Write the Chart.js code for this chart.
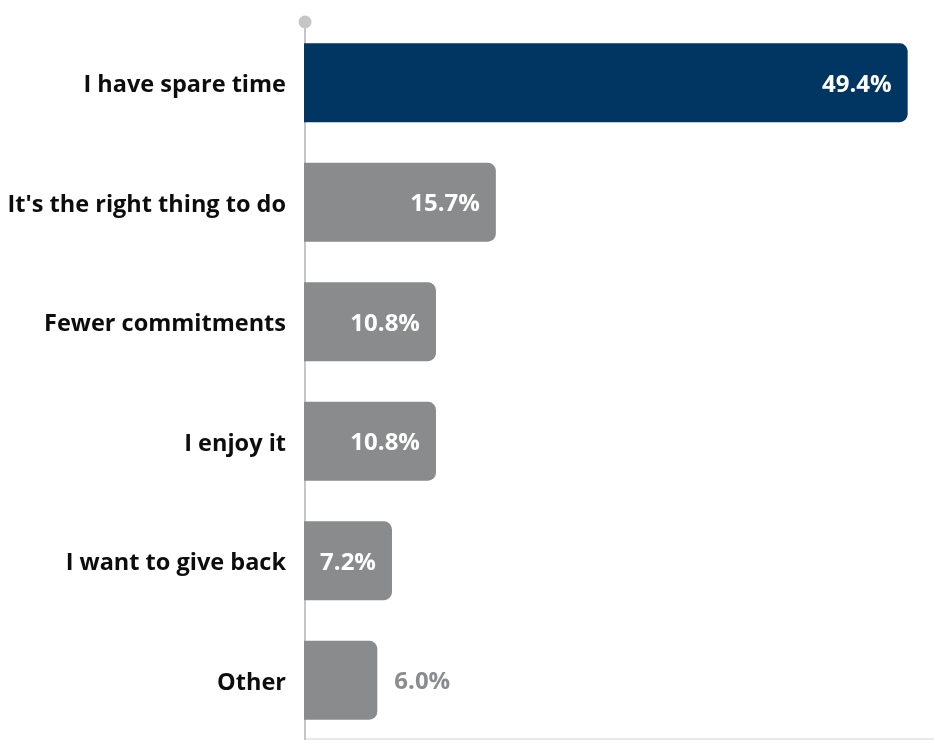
<!DOCTYPE html>
<html lang="en">
<head>
    <meta charset="UTF-8">
    <title>Reasons</title>
    <style>
        body {
            margin: 0;
            padding: 0;
            background-color: #ffffff;
        }

        .chart-container {
            position: relative;
            width: 934px;
            height: 740px;
        }
    </style>
    <script src="https://cdn.jsdelivr.net/npm/chart.js"></script>
</head>
<body>
    <div class="chart-container">
        <canvas id="reasonsChart"></canvas>
    </div>

    <script>
        // datos del grafico
        const categories = ['I have spare time', "It's the right thing to do", 'Fewer commitments', 'I enjoy it', 'I want to give back', 'Other'];
        const percentages = [49.4, 15.7, 10.8, 10.8, 7.2, 6.0];
        const barColors = ['#023662', '#898b8c', '#898b8c', '#898b8c', '#898b8c', '#898b8c'];

        const FONT = '"Open Sans", Lato, sans-serif';

        // linea vertical del eje con el circulo arriba, y linea de abajo
        const axisDecor = {
            id: 'axisDecor',
            beforeDatasetsDraw(chart) {
                const ctx = chart.ctx;
                const area = chart.chartArea;
                ctx.save();
                ctx.strokeStyle = '#e2e2e2';
                ctx.lineWidth = 1.5;
                ctx.beginPath();
                ctx.moveTo(area.left, area.bottom - 1);
                ctx.lineTo(chart.width, area.bottom - 1);
                ctx.stroke();

                ctx.strokeStyle = '#c6c6c6';
                ctx.lineWidth = 2;
                ctx.beginPath();
                ctx.moveTo(area.left + 1, area.top - 1);
                ctx.lineTo(area.left + 1, area.bottom);
                ctx.stroke();

                ctx.fillStyle = '#c6c6c6';
                ctx.beginPath();
                ctx.arc(area.left + 1, area.top - 1, 6.5, 0, Math.PI * 2);
                ctx.fill();
                ctx.restore();
            }
        };

        // etiquetas de valor
        const valueLabels = {
            id: 'valueLabels',
            afterDatasetsDraw(chart) {
                const ctx = chart.ctx;
                const meta = chart.getDatasetMeta(0);
                ctx.save();
                ctx.font = 'bold 24px ' + FONT;
                ctx.textBaseline = 'middle';
                meta.data.forEach(function(bar, i) {
                    const v = percentages[i];
                    const text = v.toFixed(1) + '%';
                    if (v >= 7) {
                        ctx.fillStyle = '#ffffff';
                        ctx.textAlign = 'right';
                        ctx.fillText(text, bar.x - 16, bar.y + 2);
                    } else {
                        ctx.fillStyle = '#8a8c8d';
                        ctx.textAlign = 'left';
                        ctx.fillText(text, bar.x + 17, bar.y + 2);
                    }
                });
                ctx.restore();
            }
        };

        window.onload = function() {
            const ctx = document.getElementById('reasonsChart').getContext('2d');
            new Chart(ctx, {
                type: 'bar',
                data: {
                    labels: categories,
                    datasets: [{
                        data: percentages,
                        backgroundColor: barColors,
                        borderRadius: 8,
                        borderSkipped: 'start',
                        categoryPercentage: 1,
                        barPercentage: 0.66
                    }]
                },
                options: {
                    indexAxis: 'y',
                    responsive: true,
                    maintainAspectRatio: false,
                    animation: false,
                    layout: {
                        padding: { top: 23, right: 19, bottom: 0, left: 0 }
                    },
                    plugins: {
                        legend: { display: false },
                        tooltip: { enabled: false }
                    },
                    scales: {
                        x: {
                            display: false,
                            min: 0,
                            max: 50
                        },
                        y: {
                            grid: { display: false, drawTicks: false },
                            border: { display: false },
                            afterFit: function(scale) {
                                scale.width = 304;
                                scale.paddingTop = 0;
                                scale.paddingBottom = 0;
                            },
                            ticks: {
                                padding: 18,
                                labelOffset: 3,
                                color: '#0d0d0d',
                                font: { family: FONT, size: 23.5, weight: 'bold' }
                            }
                        }
                    }
                },
                plugins: [axisDecor, valueLabels]
            });
        };
    </script>
</body>
</html>
